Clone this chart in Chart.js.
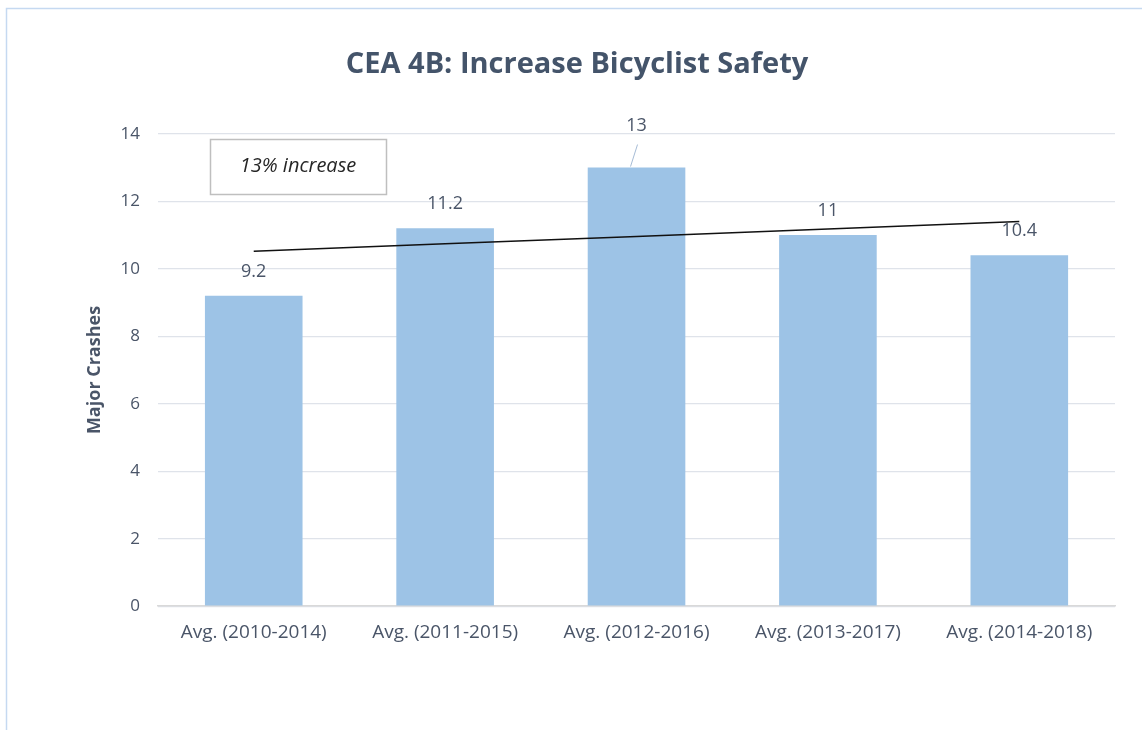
<!DOCTYPE html>
<html>
<head>
<meta charset="utf-8">
<script src="https://cdn.jsdelivr.net/npm/chart.js@4.4.0/dist/chart.umd.min.js"></script>
<style>
  body { margin: 0; background: #fff; }
  #wrap { position: relative; width: 1142px; height: 730px; }
</style>
</head>
<body>
<div id="wrap"><canvas id="myChart" width="1142" height="730"></canvas></div>
<script>
const categories = ["Avg. (2010-2014)", "Avg. (2011-2015)", "Avg. (2012-2016)", "Avg. (2013-2017)", "Avg. (2014-2018)"];
const crashes = [9.2, 11.2, 13, 11, 10.4];
// linear trendline
const trendValues = [10.52, 10.74, 10.96, 11.18, 11.4];
const yTicks = [0, 2, 4, 6, 8, 10, 12, 14];
const noteText = "13% increase";

const textColor = "#4a5568";
const fontFamily = "'Open Sans', 'Liberation Sans', sans-serif";

const framePlugin = {
  id: "frame",
  beforeDraw(chart) {
    const c = chart.ctx;
    c.save();
    c.fillStyle = "#fff";
    c.fillRect(0, 0, chart.width, chart.height);
    c.strokeStyle = "#c5d9f1";
    c.lineWidth = 1.5;
    c.beginPath();
    c.moveTo(6.5, chart.height);
    c.lineTo(6.5, 8.5);
    c.lineTo(chart.width, 8.5);
    c.stroke();
    c.restore();
  }
};

const labelsPlugin = {
  id: "barLabels",
  afterDatasetsDraw(chart) {
    const c = chart.ctx;
    const meta = chart.getDatasetMeta(1);
    c.save();
    c.font = "18px " + fontFamily;
    c.fillStyle = textColor;
    c.textAlign = "center";
    c.textBaseline = "middle";
    meta.data.forEach((bar, i) => {
      const v = crashes[i];
      if (i === 2) {
        // label pushed up with a leader line
        c.strokeStyle = "#a6bcd6";
        c.lineWidth = 1;
        c.beginPath();
        c.moveTo(bar.x - 6, bar.y - 1);
        c.lineTo(bar.x + 1, bar.y - 23);
        c.stroke();
        c.fillText(String(v), bar.x, bar.y - 42);
      } else {
        c.fillText(String(v), bar.x, bar.y - 24);
      }
    });
    // annotation box
    const x = 210, y = 139, w = 176, h = 55;
    c.strokeStyle = "#bfbfbf";
    c.lineWidth = 1.5;
    c.strokeRect(x + 0.5, y + 0.5, w, h);
    c.font = "italic 20px " + fontFamily;
    c.fillStyle = "#262626";
    c.textAlign = "center";
    c.textBaseline = "middle";
    c.fillText(noteText, x + w / 2, y + h / 2);
    c.restore();
  }
};

new Chart(document.getElementById("myChart"), {
  data: {
    labels: categories,
    datasets: [
      {
        type: "line",
        label: "Linear",
        data: trendValues,
        borderColor: "#111",
        borderWidth: 1.5,
        pointRadius: 0,
        fill: false,
        order: 0
      },
      {
        type: "bar",
        label: "Major Crashes",
        data: crashes,
        backgroundColor: "#9dc3e6",
        categoryPercentage: 1,
        barPercentage: 0.51,
        order: 1
      }
    ]
  },
  plugins: [framePlugin, labelsPlugin],
  options: {
    responsive: false,
    animation: false,
    layout: { padding: { left: 39, right: 27, top: 20, bottom: 71 } },
    plugins: {
      legend: { display: false },
      tooltip: { enabled: false },
      title: {
        display: true,
        text: "CEA 4B: Increase Bicyclist Safety",
        color: "#44546a",
        font: { family: fontFamily, size: 29, weight: "bold" },
        padding: { top: 27, bottom: 52 }
      }
    },
    scales: {
      x: {
        grid: { display: false, drawTicks: false },
        border: { color: "#d9d9d9", width: 1.5 },
        ticks: { color: textColor, font: { family: fontFamily, size: 19 }, padding: 15, maxRotation: 0 }
      },
      y: {
        min: 0,
        max: 14,
        afterBuildTicks(axis) { axis.ticks = yTicks.map(v => ({ value: v })); },
        grid: { color: "#dfe3ea", lineWidth: 1.2, drawTicks: false },
        border: { display: false },
        ticks: { color: textColor, font: { family: fontFamily, size: 17 }, padding: 18 },
        title: {
          display: true,
          text: "Major Crashes",
          color: textColor,
          font: { family: fontFamily, size: 18, weight: "bold" },
          padding: { top: 45, bottom: -3 }
        }
      }
    }
  }
});
</script>
</body>
</html>
